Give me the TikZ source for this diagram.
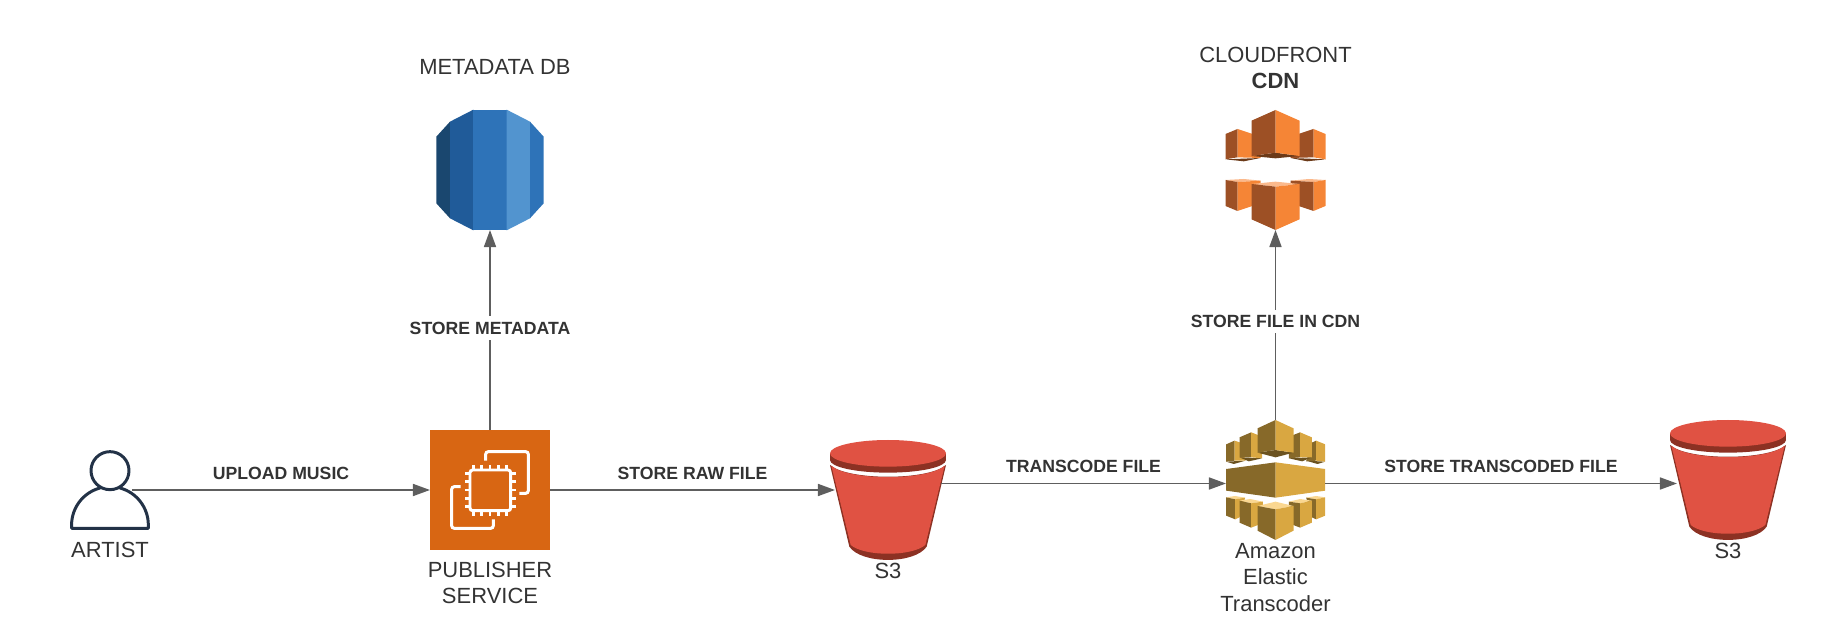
\documentclass[tikz,border=0pt]{standalone}
\usepackage{fontspec}
\setmainfont{Liberation Sans}
\usetikzlibrary{positioning}
\usetikzlibrary{arrows.meta}

\definecolor{inktext}{HTML}{333333}
\definecolor{inkline}{HTML}{5E5E5E}
\definecolor{inkperson}{HTML}{233247}
\definecolor{ectwo}{HTML}{D86613}
\definecolor{rdsa}{HTML}{1A476F}
\definecolor{rdsb}{HTML}{205B99}
\definecolor{rdsc}{HTML}{2E73B8}
\definecolor{rdsd}{HTML}{5294CF}
\definecolor{sthree}{HTML}{E05243}
\definecolor{sthreedark}{HTML}{8C3123}
\definecolor{cdnlight}{HTML}{F58536}
\definecolor{cdndark}{HTML}{9D5025}
\definecolor{cdnshade}{HTML}{6B3A19}
\definecolor{cdntop}{HTML}{FBB98C}
\definecolor{etlight}{HTML}{D9A741}
\definecolor{etdark}{HTML}{876929}
\definecolor{etshade}{HTML}{6B5220}
\definecolor{ettop}{HTML}{FAD791}

\tikzset{
	icon/.style={x=0.00667cm,y=-0.00667cm},
	iconbox/.style={inner sep=0pt,outer sep=0pt},
	caption/.style={
		inner sep=0pt,
		align=center,
		text=inktext,
		font=\fontsize{12.5}{15}\selectfont
	},
	flowlabel/.style={
		inner sep=5.6pt,
		text=inktext,
		font=\fontsize{10.05}{12}\selectfont\bfseries
	},
	uplabel/.style={
		fill=white,
		inner sep=3pt,
		text=inktext,
		font=\fontsize{10.05}{12}\selectfont\bfseries
	},
	flow/.style={
		draw=inkline,
		line width=1.05pt,
		-{Triangle[length=9.7pt,width=6.8pt]}
	},
	personicon/.pic={
		\begin{scope}[icon]
			\draw[inkperson,line width=1.7pt,line join=round,line cap=round]
				(0,-58) circle[radius=57];
			\draw[inkperson,line width=1.7pt,line join=round,line cap=round]
				(-30,-6) arc[start angle=-105,end angle=-180,radius=115]
				-- (-115,115) -- (115,115) -- (115,105)
				arc[start angle=0,end angle=-75,radius=115];
		\end{scope}
	},
	chipicon/.pic={
		\begin{scope}[icon,white,line width=1.7pt,rounded corners=1.5pt]
			\draw (-13,-88) -- (-13,-115) -- (115,-115) -- (115,10) -- (88,10);
			\draw (-88,-10) -- (-115,-10) -- (-115,115) -- (10,115) -- (10,88);
			\draw (-60,-60) rectangle (62,62);
			\foreach \p in {-50,-25,0,25,49} {
				\draw[rounded corners=0pt,line width=1.5pt] (\p,-75) -- (\p,-60);
				\draw[rounded corners=0pt,line width=1.5pt] (\p,62) -- (\p,77);
				\draw[rounded corners=0pt,line width=1.5pt] (-75,\p) -- (-60,\p);
				\draw[rounded corners=0pt,line width=1.5pt] (62,\p) -- (77,\p);
			}
		\end{scope}
	},
	rdsicon/.pic={
		\begin{scope}[icon]
			\fill[rdsa] (-120,-145) -- (-161,-100) -- (-161,100) -- (-120,145) -- cycle;
			\fill[rdsb] (-120,-145) -- (-50,-181) -- (-50,181) -- (-120,145) -- cycle;
			\fill[rdsc] (-50,-181) -- (50,-181) -- (50,181) -- (-50,181) -- cycle;
			\fill[rdsd] (50,-181) -- (120,-145) -- (120,145) -- (50,181) -- cycle;
			\fill[rdsc] (120,-145) -- (161,-100) -- (161,100) -- (120,145) -- cycle;
		\end{scope}
	},
	bucketicon/.pic={
		\begin{scope}[icon]
			\fill[sthreedark] (-174,-105) -- (-116,140)
				.. controls (-80,193) and (80,193) .. (116,140)
				-- (174,-105)
				.. controls (120,-58) and (-120,-58) .. cycle;
			\fill[sthree] (-170,-103) -- (-112,135)
				.. controls (-70,170) and (70,170) .. (112,135)
				-- (170,-103)
				.. controls (120,-57) and (-120,-57) .. cycle;
			\fill[sthreedark] (0,-120) ellipse[x radius=174,y radius=38];
			\fill[sthreedark] (-174,-140) rectangle (174,-120);
			\fill[sthree] (0,-140) ellipse[x radius=174,y radius=40];
		\end{scope}
	},
	cdnicon/.pic={
		\begin{scope}[icon]
			\fill[cdnshade] (-150,-32) -- (-45,-36) -- (-95,-26) -- cycle;
			\fill[cdndark] (-150,-108) -- (-114,-123) -- (-114,-38) -- (-150,-32) -- cycle;
			\fill[cdnlight] (-114,-123) -- (-45,-100) -- (-45,-36) -- (-114,-38) -- cycle;
			\fill[cdnshade] (150,-32) -- (45,-36) -- (95,-26) -- cycle;
			\fill[cdndark] (45,-100) -- (114,-123) -- (114,-38) -- (45,-36) -- cycle;
			\fill[cdnlight] (114,-123) -- (150,-108) -- (150,-32) -- (114,-38) -- cycle;
			\fill[cdnshade] (-72,-42) -- (0,-52) -- (72,-42) -- (0,-35) -- cycle;
			\fill[cdndark] (-72,-148) -- (0,-180) -- (0,-52) -- (-72,-42) -- cycle;
			\fill[cdnlight] (0,-180) -- (72,-148) -- (72,-42) -- (0,-52) -- cycle;
			\fill[cdntop] (-150,30) -- (-95,27) -- (-45,32) -- (-114,36) -- cycle;
			\fill[cdndark] (-150,30) -- (-114,36) -- (-114,123) -- (-150,108) -- cycle;
			\fill[cdnlight] (-114,36) -- (-45,32) -- (-45,100) -- (-114,123) -- cycle;
			\fill[cdntop] (45,32) -- (100,27) -- (150,30) -- (114,36) -- cycle;
			\fill[cdndark] (45,32) -- (114,36) -- (114,123) -- (45,100) -- cycle;
			\fill[cdnlight] (114,36) -- (150,30) -- (150,108) -- (114,123) -- cycle;
			\fill[cdntop] (-72,42) -- (0,35) -- (72,42) -- (0,50) -- cycle;
			\fill[cdndark] (-72,42) -- (0,50) -- (0,180) -- (-72,148) -- cycle;
			\fill[cdnlight] (0,50) -- (72,42) -- (72,148) -- (0,180) -- cycle;
		\end{scope}
	},
	etcicon/.pic={
		\begin{scope}[icon]
			\fill[etshade] (-148,-55) -- (-90,-58) -- (-125,-48) -- cycle;
			\fill[etdark] (-148,-107) -- (-123,-118) -- (-123,-58) -- (-148,-55) -- cycle;
			\fill[etlight] (-123,-118) -- (-105,-112) -- (-90,-58) -- (-123,-58) -- cycle;
			\fill[etshade] (149,-55) -- (91,-58) -- (126,-48) -- cycle;
			\fill[etdark] (109,-112) -- (122,-118) -- (122,-58) -- (92,-56) -- cycle;
			\fill[etlight] (122,-118) -- (149,-107) -- (149,-55) -- (122,-58) -- cycle;
			\fill[etshade] (-108,-68) -- (-40,-65) -- (-80,-56) -- cycle;
			\fill[etdark] (-108,-128) -- (-73,-143) -- (-73,-68) -- (-108,-68) -- cycle;
			\fill[etlight] (-73,-143) -- (-40,-130) -- (-40,-65) -- (-73,-68) -- cycle;
			\fill[etshade] (109,-68) -- (40,-65) -- (80,-56) -- cycle;
			\fill[etdark] (40,-130) -- (74,-143) -- (74,-68) -- (40,-65) -- cycle;
			\fill[etlight] (74,-143) -- (109,-128) -- (109,-68) -- (74,-68) -- cycle;
			\fill[etshade] (-54,-82) -- (0,-90) -- (54,-82) -- (0,-68) -- cycle;
			\fill[etdark] (-54,-155) -- (0,-180) -- (0,-90) -- (-54,-82) -- cycle;
			\fill[etlight] (0,-180) -- (54,-155) -- (54,-82) -- (0,-90) -- cycle;
			\fill[etdark] (-148,-33) -- (0,-53) -- (0,53) -- (-148,32) -- cycle;
			\fill[etlight] (0,-53) -- (149,-33) -- (149,32) -- (0,53) -- cycle;
			\fill[ettop] (-148,52) -- (-121,48) -- (-91,53) -- (-121,58) -- cycle;
			\fill[etdark] (-148,52) -- (-121,58) -- (-121,118) -- (-148,107) -- cycle;
			\fill[etlight] (-121,58) -- (-91,53) -- (-108,112) -- (-121,118) -- cycle;
			\fill[ettop] (92,53) -- (122,48) -- (149,52) -- (122,58) -- cycle;
			\fill[etdark] (92,53) -- (122,58) -- (122,118) -- (109,112) -- cycle;
			\fill[etlight] (122,58) -- (149,52) -- (149,107) -- (122,118) -- cycle;
			\fill[ettop] (-108,62) -- (-76,57) -- (-38,65) -- (-73,70) -- cycle;
			\fill[etdark] (-108,62) -- (-73,70) -- (-73,143) -- (-108,128) -- cycle;
			\fill[etlight] (-73,70) -- (-38,65) -- (-40,130) -- (-73,143) -- cycle;
			\fill[ettop] (40,65) -- (74,57) -- (109,62) -- (74,70) -- cycle;
			\fill[etdark] (40,65) -- (74,70) -- (74,143) -- (40,130) -- cycle;
			\fill[etlight] (74,70) -- (109,62) -- (109,128) -- (74,143) -- cycle;
			\fill[ettop] (-54,78) -- (0,65) -- (54,78) -- (0,88) -- cycle;
			\fill[etdark] (-54,78) -- (0,88) -- (0,180) -- (-54,152) -- cycle;
			\fill[etlight] (0,88) -- (54,78) -- (54,152) -- (0,180) -- cycle;
		\end{scope}
	}
}

\begin{document}
\begin{tikzpicture}[x=0.02cm,y=-0.02cm]

\useasboundingbox (0,0) rectangle (1826,644);

\node[
	iconbox,
	minimum width=0.88cm,
	minimum height=1.6cm
] (artist) at (110,490) {};

\node[
	iconbox,
	fill=ectwo,
	minimum width=2.4cm,
	minimum height=2.4cm
] (publisher) at (490,490) {};

\node[
	iconbox,
	minimum width=2.14cm,
	minimum height=2.4cm
] (rds) at (490,170) {};

\node[
	iconbox,
	minimum width=2.12cm,
	minimum height=2.4cm
] (rawbucket) at (888,500) {};

\node[
	iconbox,
	minimum width=1.98cm,
	minimum height=2.54cm
] (transcoder) at (1275.5,483.5) {};

\node[
	iconbox,
	minimum width=2cm,
	minimum height=2.4cm
] (cdn) at (1275.5,170) {};

\node[
	iconbox,
	minimum width=2.04cm,
	minimum height=2.4cm
] (outbucket) at (1728,480) {};

\pic at (artist) {personicon};
\pic at (publisher) {chipicon};
\pic at (rds) {rdsicon};
\pic at (rawbucket) {bucketicon};
\pic at (1275.5,480) {etcicon};
\pic at (cdn) {cdnicon};
\pic at (outbucket) {bucketicon};

\node[caption, below=6.8pt of artist] (artistname) {ARTIST};
\node[caption, below=6.7pt of publisher] (publishername) {PUBLISHER\\SERVICE};
\node[caption, above=19.9pt of rds, xshift=2.8pt] (rdsname) {METADATA DB};
\node[caption, below=1.7pt of rawbucket] (rawname) {S3};
\node[caption, below=-2.3pt of transcoder] (transcodername) {Amazon\\Elastic\\Transcoder};
\node[caption, above=11.8pt of cdn] (cdnname) {CLOUDFRONT\\\textbf{CDN}};
\node[caption, below=1.7pt of outbucket] (outname) {S3};

\draw[flow] (artist.east) -- (publisher.west)
	node[midway, above, flowlabel]{UPLOAD MUSIC};
\draw[flow] (publisher.east) -- (rawbucket.west |- publisher.east)
	node[midway, above, flowlabel]{STORE RAW FILE};
\draw[flow] (publisher.north) -- (rds.south)
	node[pos=0.51, uplabel]{STORE METADATA};
\draw[flow] (rawbucket.east |- transcoder.west) -- (transcoder.west)
	node[midway, above, flowlabel]{TRANSCODE FILE};
\draw[flow] (transcoder.east) -- (outbucket.west |- transcoder.east)
	node[midway, above, flowlabel]{STORE TRANSCODED FILE};
\draw[flow] (transcoder.north) -- (cdn.south)
	node[pos=0.52, uplabel]{STORE FILE IN CDN};

\end{tikzpicture}
\end{document}
